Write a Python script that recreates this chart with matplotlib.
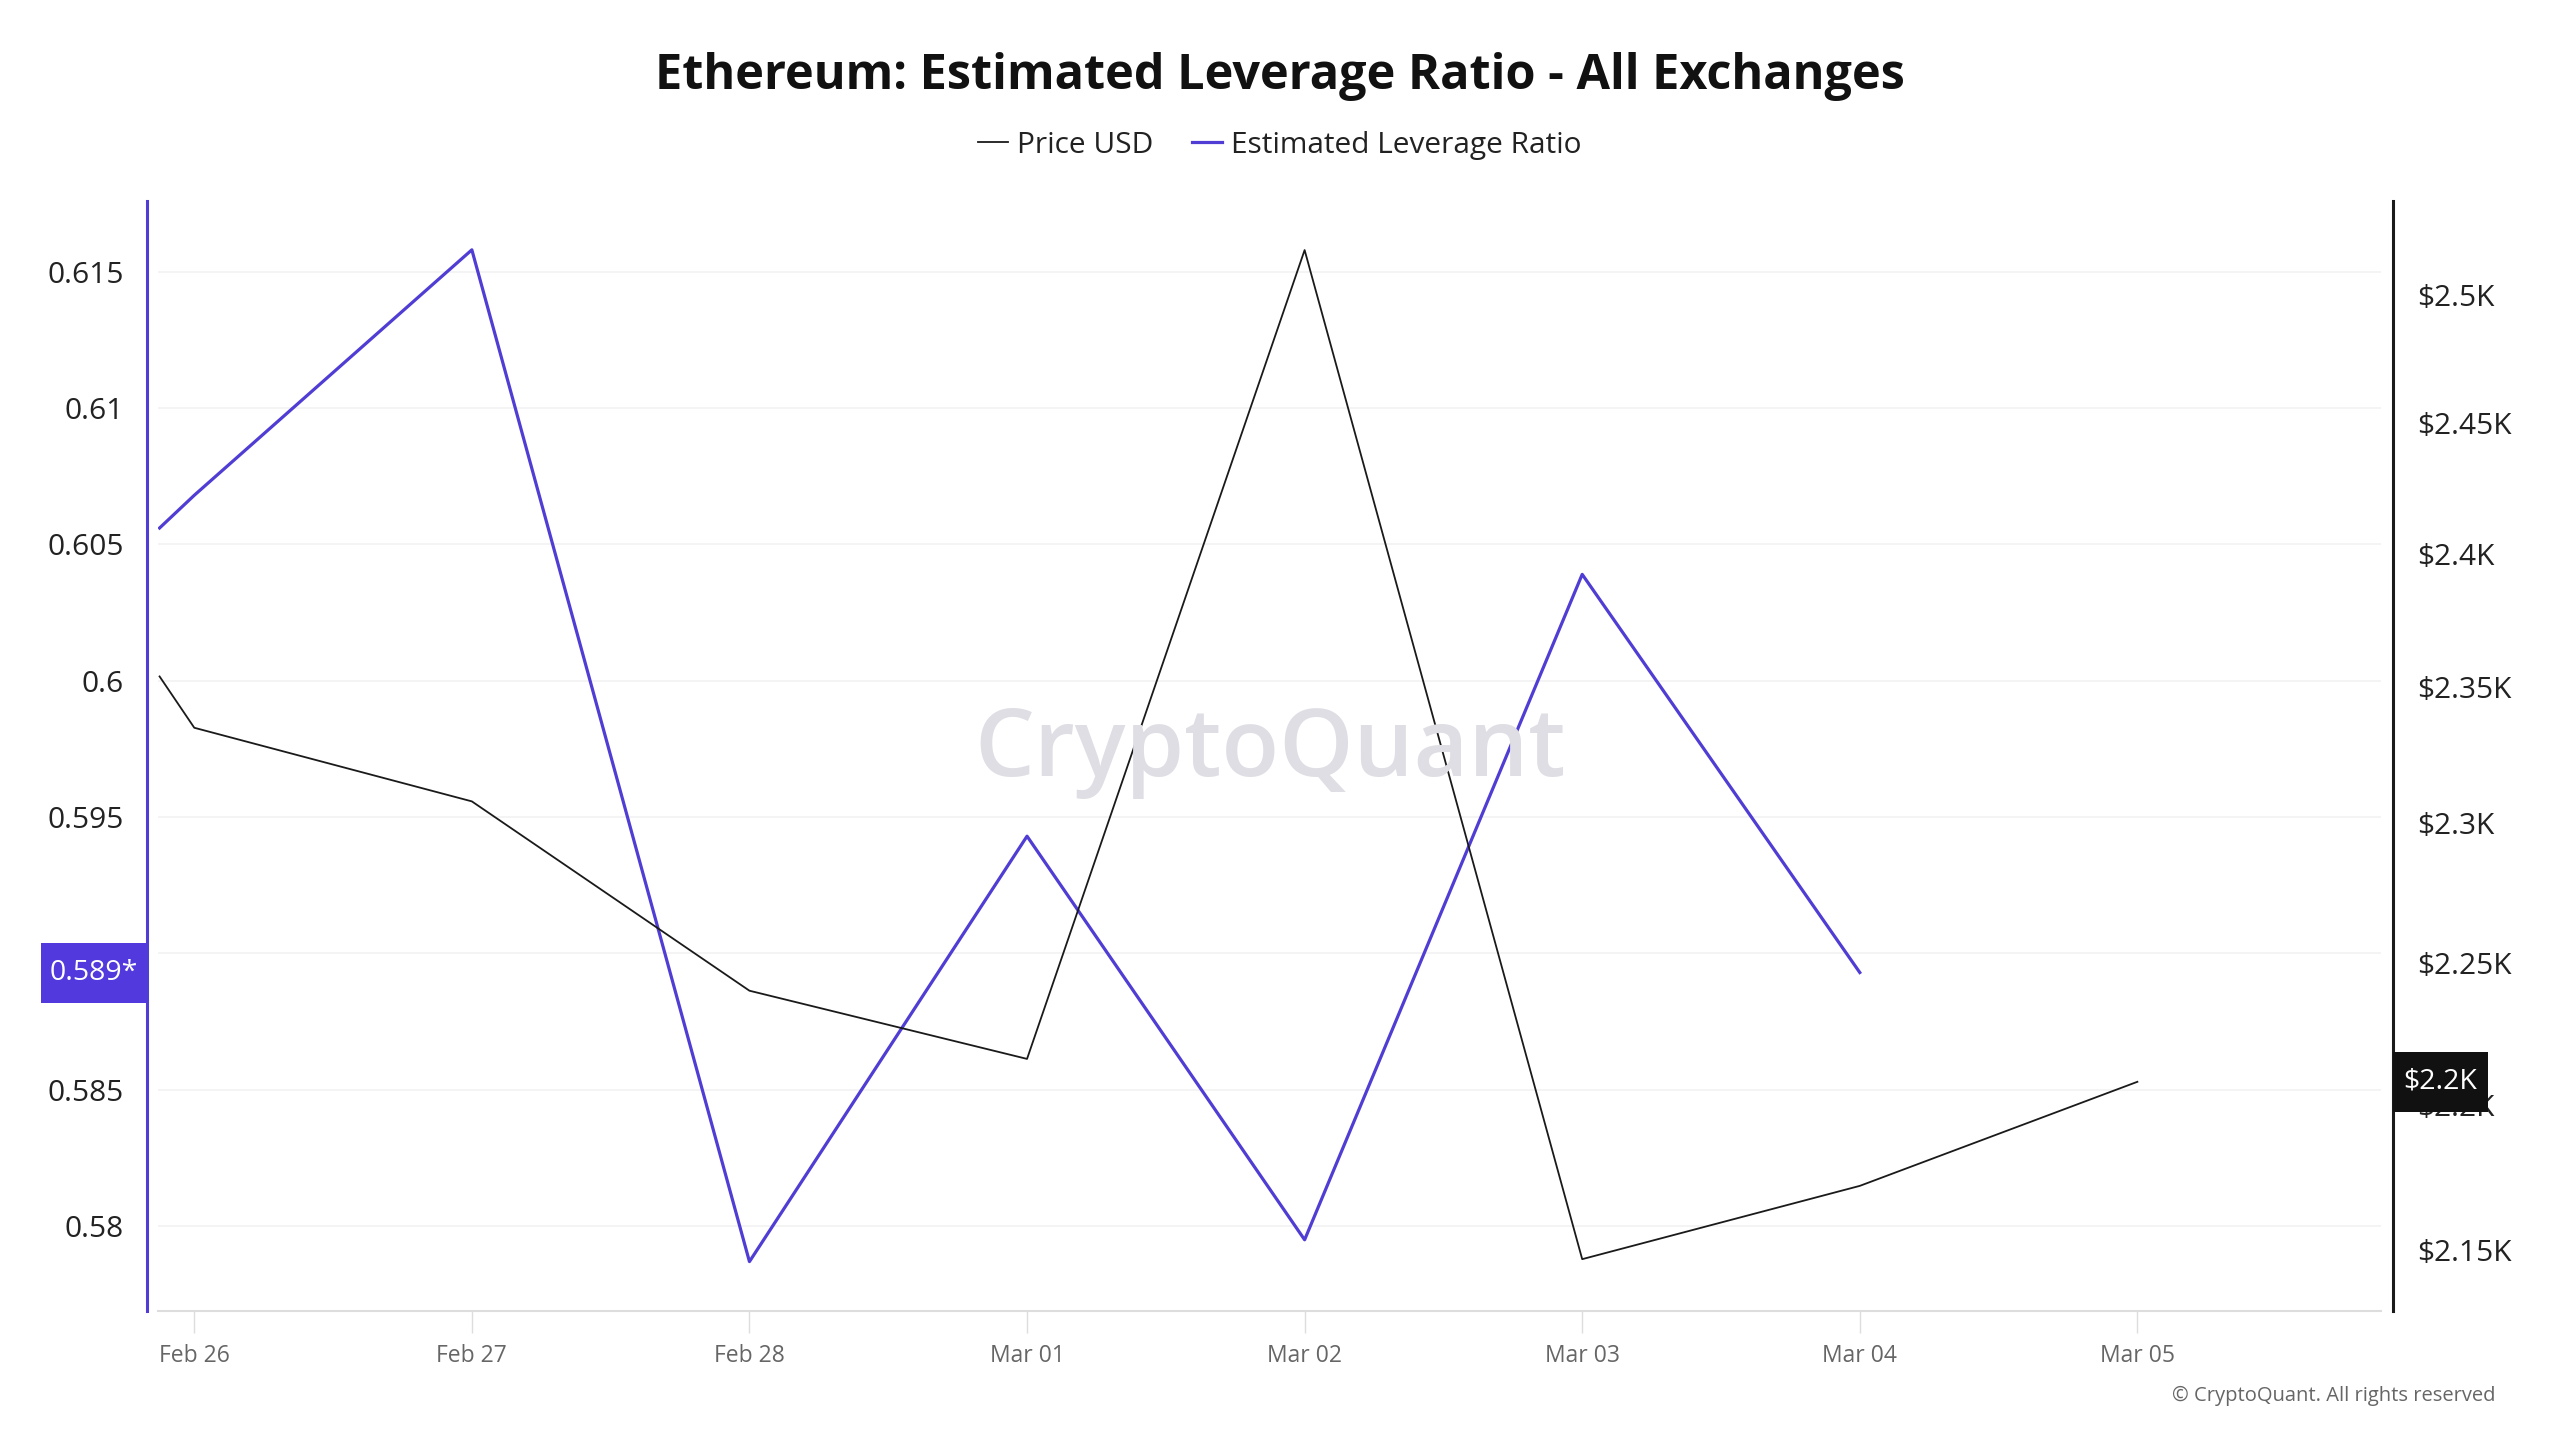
import matplotlib
matplotlib.use("Agg")
import matplotlib.pyplot as plt
import matplotlib.transforms as mtransforms
from matplotlib.lines import Line2D
from matplotlib.patches import Rectangle
import pandas as pd
from matplotlib.ticker import FixedLocator, NullLocator

plt.rcParams['font.family'] = ['Open Sans', 'DejaVu Sans']

# ---- data ----
lev_dates = ["2025-02-25 21:00", "2025-02-26 00:00", "2025-02-27 00:00", "2025-02-28 00:00",
             "2025-03-01 00:00", "2025-03-02 00:00", "2025-03-03 00:00", "2025-03-04 00:00"]
leverage = [0.6056, 0.6068, 0.6158, 0.5787, 0.5943, 0.5795, 0.6039, 0.5893]

price_dates = ["2025-02-25 21:00", "2025-02-26 00:00", "2025-02-27 00:00", "2025-02-28 00:00",
               "2025-03-01 00:00", "2025-03-02 00:00", "2025-03-03 00:00", "2025-03-04 00:00",
               "2025-03-05 00:00"]
price = [2354, 2335, 2308, 2240, 2216, 2518, 2147, 2172, 2208]

xtick_dates = ["2025-02-26", "2025-02-27", "2025-02-28", "2025-03-01",
               "2025-03-02", "2025-03-03", "2025-03-04", "2025-03-05"]
xtick_labels = ["Feb 26", "Feb 27", "Feb 28", "Mar 01", "Mar 02", "Mar 03", "Mar 04", "Mar 05"]

left_ticks = [0.58, 0.585, 0.59, 0.595, 0.6, 0.605, 0.61, 0.615]
# the 0.59 label is hidden behind the current-value marker in the reference
left_labels = ["0.58", "0.585", "", "0.595", "0.6", "0.605", "0.61", "0.615"]
right_ticks = [2150, 2200, 2250, 2300, 2350, 2400, 2450, 2500]
right_labels = ["$2.15K", "$2.2K", "$2.25K", "$2.3K", "$2.35K", "$2.4K", "$2.45K", "$2.5K"]

title = "Ethereum: Estimated Leverage Ratio - All Exchanges"
series_names = ["Price USD", "Estimated Leverage Ratio"]

PURPLE = "#4f3dd4"
BLACK = "#1a1a1a"

lev_x = pd.to_datetime(lev_dates, format="%Y-%m-%d %H:%M")
price_x = pd.to_datetime(price_dates, format="%Y-%m-%d %H:%M")
xt = pd.to_datetime(xtick_dates, format="%Y-%m-%d")

W, H = 2560, 1440
fig = plt.figure(figsize=(25.6, 14.4), dpi=100)
ax = fig.add_axes([0.0619, 0.0896, 0.9299 - 0.0619, 0.8606 - 0.0896])
ax2 = ax.twinx()

ax.plot(lev_x, leverage, color=PURPLE, lw=2.3, zorder=3)
ax2.plot(price_x, price, color=BLACK, lw=1.3, zorder=3)

x0 = pd.Timestamp("2025-02-26") - pd.Timedelta(days=0.129)
x1 = pd.Timestamp("2025-02-26") + pd.Timedelta(days=7.876)
ax.set_xlim(x0, x1)
ax.set_ylim(0.57689, 0.61760)

ax2.set_yscale('log')
ax2.set_ylim(2129.5, 2537.7)
ax2.yaxis.set_major_locator(FixedLocator(right_ticks))
ax2.yaxis.set_minor_locator(NullLocator())
ax2.set_yticklabels(right_labels)

ax.set_yticks(left_ticks)
ax.set_yticklabels(left_labels)
ax.set_xticks(xt)
ax.set_xticklabels(xtick_labels)

ax.grid(axis='y', color='#f2f2f2', lw=1.2, zorder=0)
ax.grid(axis='x', visible=False)

ax.tick_params(axis='y', length=0, pad=17, labelsize=21.5, labelcolor='#222222')
ax2.tick_params(axis='y', length=0, pad=17, labelsize=21.5, labelcolor='#222222')
ax.tick_params(axis='x', length=16, width=1, color='#dddddd', pad=8, labelsize=16.5, labelcolor='#666666')

ax.spines['top'].set_visible(False)
ax2.spines['top'].set_visible(False)
ax2.spines['bottom'].set_visible(False)
ax2.spines['left'].set_visible(False)
ax.spines['right'].set_visible(False)
ax.spines['bottom'].set_color('#dddddd')
ax.spines['bottom'].set_linewidth(1.5)
ax.spines['left'].set_color(PURPLE)
ax.spines['left'].set_linewidth(2.2)
ax.spines['left'].set_position(('outward', 8))
ax2.spines['right'].set_color(BLACK)
ax2.spines['right'].set_linewidth(2.2)
ax2.spines['right'].set_position(('outward', 9))

# title & legend
fig.text(0.5, 0.947, title, ha='center', va='center', fontsize=35, fontweight='bold', color='#111111')
handles = [Line2D([], [], color=BLACK, lw=1.3), Line2D([], [], color=PURPLE, lw=2.3)]
fig.legend(handles, series_names, loc='center', bbox_to_anchor=(0.5, 0.899), ncol=2,
           frameon=False, fontsize=21.5, handlelength=1.0, handletextpad=0.3, columnspacing=1.3,
           labelcolor='#222222')

# watermark
fig.text(0.496, 0.478, "CryptoQuant", ha='center', va='center', fontsize=68,
         color='#dedee4', fontweight='semibold', zorder=0)

# current-value markers (boxes positioned from the data through the axes transforms)
def value_box(x_left_px, width_px, y_disp, text, color):
    box_h = 60
    fig.add_artist(Rectangle((x_left_px / W, (y_disp - box_h / 2) / H), width_px / W, box_h / H,
                             transform=fig.transFigure, facecolor=color, edgecolor='none',
                             zorder=10, clip_on=False))
    fig.text((x_left_px + width_px / 2) / W, y_disp / H, text, ha='center', va='center',
             fontsize=20.5, color='white', zorder=11)

y_lev = ax.transData.transform((0, leverage[-1]))[1]
value_box(41, 106, y_lev, f"{leverage[-1]:.3f}*", '#5139dd')
y_pr = ax2.transData.transform((0, price[-1]))[1]
value_box(2393, 95, y_pr, f"${price[-1]/1000:.1f}K", '#111111')

fig.text(0.975, 0.0306, "© CryptoQuant. All rights reserved", ha='right', va='center',
         fontsize=14.5, color='#666666')

fig.savefig("out.png", dpi=100, facecolor='white')
